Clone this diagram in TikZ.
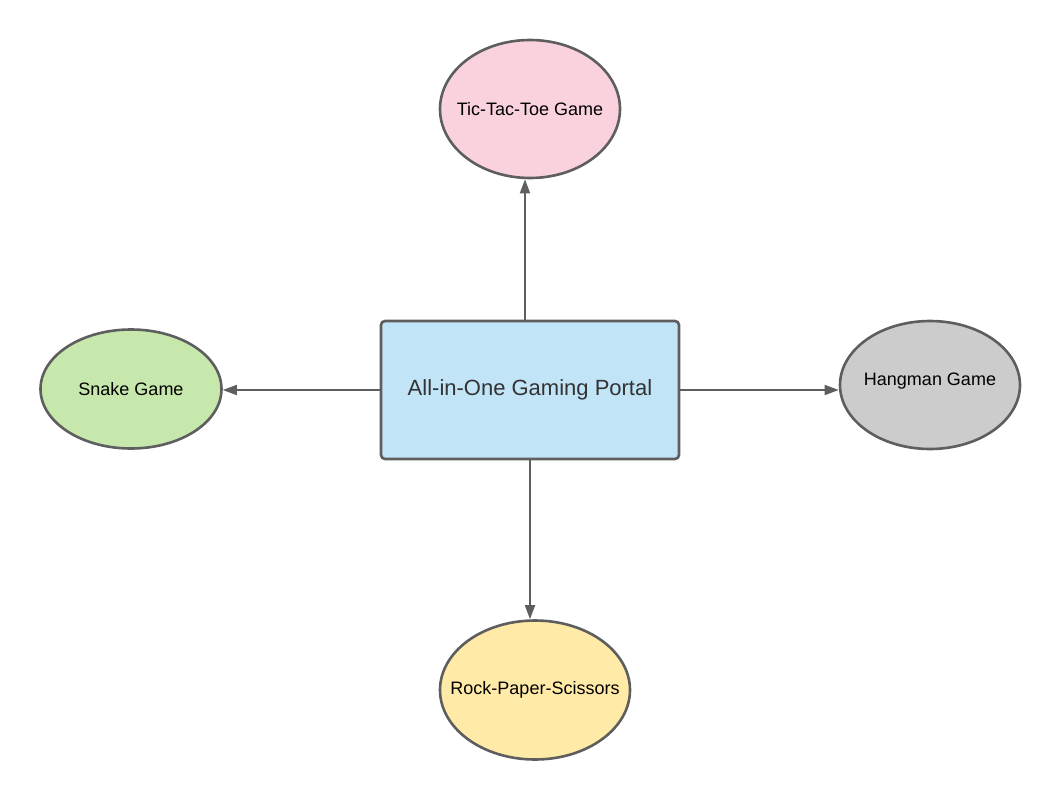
\documentclass[tikz,border=0pt]{standalone}
\usepackage{fontspec}
\setmainfont{Liberation Sans}
\usetikzlibrary{shapes.geometric,arrows.meta}
\definecolor{edge}{HTML}{5E5E5E}
\definecolor{pinkfill}{HTML}{F9D2DE}
\definecolor{greenfill}{HTML}{C7E8AC}
\definecolor{grayfill}{HTML}{CCCCCC}
\definecolor{yellowfill}{HTML}{FFEAA7}
\definecolor{bluefill}{HTML}{C1E4F6}
\definecolor{txtdark}{HTML}{333333}
\newcommand{\zw}[1]{\makebox[0pt]{#1}}
\tikzset{
  game/.style={ellipse, draw=edge, line width=2.6pt, inner sep=0pt,
    font=\fontsize{18}{21}\selectfont, text=black},
  portalbox/.style={rectangle, draw=edge, line width=2.6pt, rounded corners=4pt,
    fill=bluefill, minimum width=298pt, minimum height=138pt, inner sep=0pt,
    font=\fontsize{22}{26}\selectfont, text=txtdark},
  arr/.style={draw=edge, line width=1.8pt, -{Triangle[length=14pt,width=10pt]}},
}
\begin{document}
\begin{tikzpicture}[x=1pt,y=-1pt]
\useasboundingbox (0,0) rectangle (1060,800);
\node[portalbox] (portal) at (530,390) {All-in-One Gaming Portal};
\node[game, fill=pinkfill, minimum width=180pt, minimum height=138pt] (ttt) at (530,109) {\zw{Tic-Tac-Toe Game}};
\node[game, fill=greenfill, minimum width=181pt, minimum height=119pt] (snake) at (131,389) {\zw{Snake Game}};
\node[game, fill=grayfill, minimum width=180pt, minimum height=128pt] (hang) at (930,385) {};
\node[font=\fontsize{18}{21}\selectfont, text=black, inner sep=0pt] (hangtxt) at (930,381) {Hangman Game};
\node[game, fill=yellowfill, minimum width=190pt, minimum height=139pt] (rps) at (535,690) {\zw{Rock-Paper-Scissors}};
\draw[arr] ([xshift=-5pt]portal.north) -- ([xshift=-5pt]ttt.south);
\draw[arr] (portal.west) -- (portal.west -| snake.east);
\draw[arr] (portal.east) -- (portal.east -| hang.west);
\draw[arr] (portal.south) -- (portal.south |- rps.north);
\end{tikzpicture}
\end{document}
